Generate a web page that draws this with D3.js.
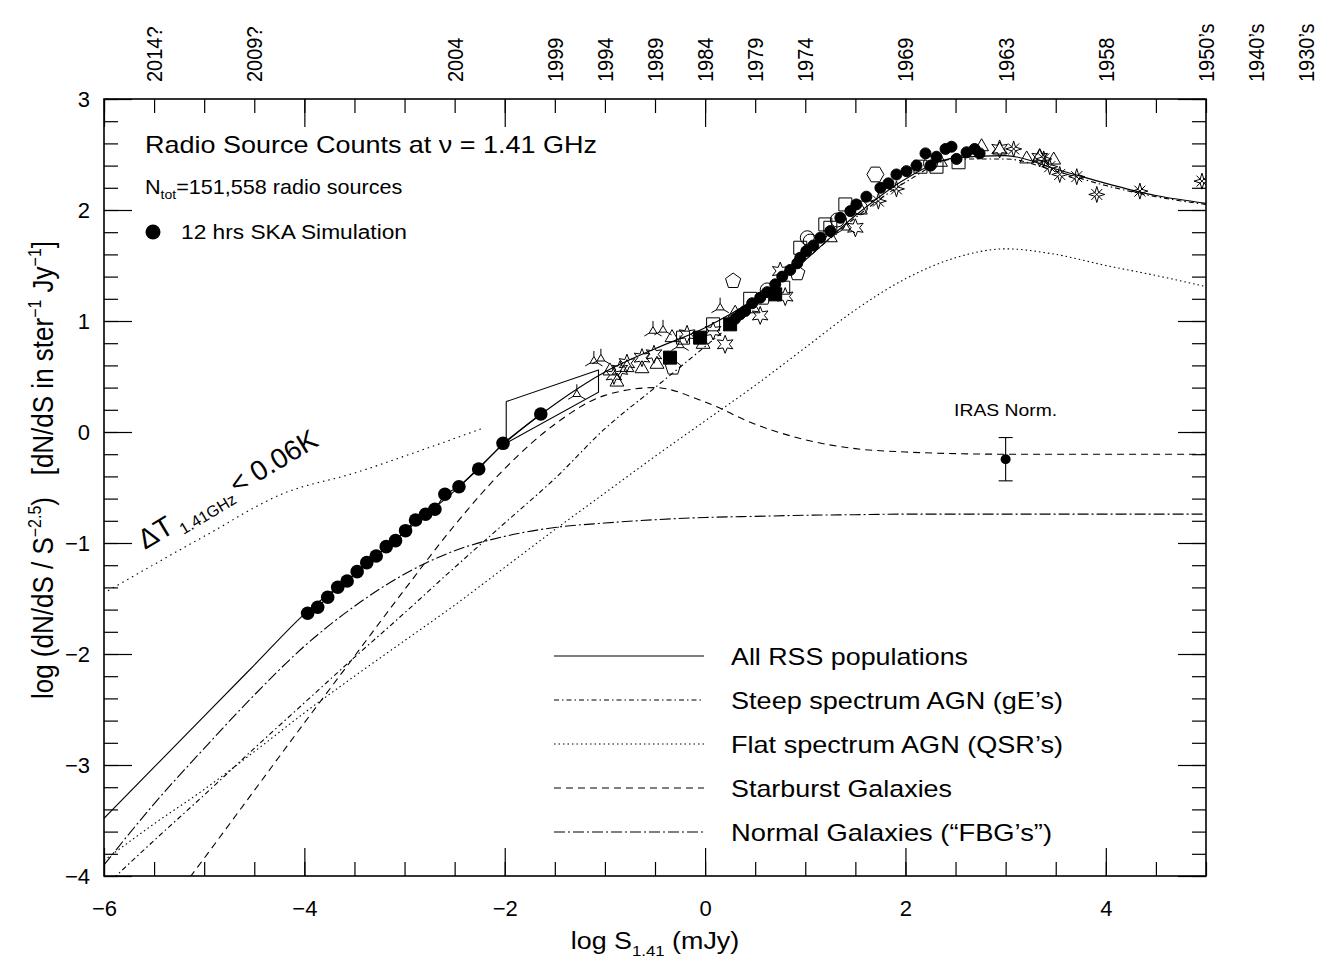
<!DOCTYPE html>
<html>
<head>
<meta charset="UTF-8">
<title>Radio Source Counts at 1.41 GHz</title>
<script src="https://d3js.org/d3.v7.min.js"></script>
<style>
  body { margin: 0; background: #fff; }
  text { font-family: "Liberation Sans", Arial, Helvetica, sans-serif; fill: #000; }
</style>
</head>
<body>
<script>
// ---- data (log S in mJy, log normalised counts) ----
var modelX    = [-6, -5.5, -5, -4.5, -4, -3.5, -3, -2.5, -2, -1.5, -1, -0.5, 0, 0.5, 1, 1.5, 2, 2.5, 3, 3.5, 4, 4.5, 5];
var allRSS    = [-3.48, -3.02, -2.56, -2.1, -1.64, -1.28, -0.9, -0.53, -0.1, 0.25, 0.54, 0.75, 0.94, 1.2, 1.55, 1.95, 2.28, 2.47, 2.49, 2.37, 2.24, 2.13, 2.06];
var steepAGN  = [-4.1, -3.68, -3.27, -2.85, -2.44, -2.03, -1.63, -1.22, -0.82, -0.42, 0.03, 0.4, 0.77, 1.15, 1.55, 1.93, 2.25, 2.46, 2.46, 2.35, 2.22, 2.12, 2.05];
var flatAGN   = [-3.86, -3.53, -3.22, -2.88, -2.53, -2.2, -1.88, -1.56, -1.22, -0.88, -0.55, -0.22, 0.1, 0.42, 0.76, 1.1, 1.38, 1.57, 1.65, 1.6, 1.5, 1.41, 1.31];
var starburst = [null, -4.44, -3.84, -3.23, -2.62, -2.02, -1.42, -0.84, -0.33, 0.07, 0.33, 0.4, 0.27, 0.07, -0.07, -0.15, -0.18, -0.195, -0.2, -0.2, -0.2, -0.2, -0.2];
var normalGal = [-3.9, -3.35, -2.85, -2.37, -1.93, -1.57, -1.28, -1.07, -0.94, -0.86, -0.82, -0.79, -0.77, -0.76, -0.75, -0.745, -0.74, -0.74, -0.74, -0.74, -0.74, -0.74, -0.74];

var skaX = [-3.967, -3.867, -3.767, -3.667, -3.573, -3.473, -3.377, -3.283, -3.183, -3.09, -2.99, -2.89, -2.79, -2.697, -2.597, -2.457, -2.26, -2.017, -1.64];
var skaY = [-1.633, -1.579, -1.489, -1.399, -1.342, -1.258, -1.177, -1.117, -1.033, -0.979, -0.889, -0.793, -0.741, -0.696, -0.561, -0.493, -0.333, -0.102, 0.162];

var tempLimitX = [-5.96, -5.0, -4.2, -3.5, -2.85, -2.2];
var tempLimitY = [-1.43, -0.94, -0.55, -0.37, -0.17, 0.04];

var pdBoxX = [-1.985, -1.064, -1.064, -1.985, -1.985];
var pdBoxY = [0.274, 0.558, 0.358, -0.10, 0.274];

var iras = { x: 3.0, y: -0.245, lo: -0.44, hi: -0.05 };

var filledCircles = [[0.30,1.02],[0.35,1.06],[0.40,1.09],[0.47,1.16],[0.55,1.21],[0.62,1.26],[0.70,1.33],[0.77,1.40],[0.85,1.46],[0.92,1.52],[0.95,1.57],[1.01,1.63],[1.08,1.68],[1.15,1.75],[1.25,1.81],[1.35,1.93],[1.45,1.99],[1.51,2.05],[1.61,2.12],[1.75,2.20],[1.83,2.24],[1.91,2.32],[2.01,2.35],[2.11,2.40],[2.20,2.51],[2.25,2.40],[2.31,2.48],[2.40,2.55],[2.46,2.57],[2.51,2.46],[2.61,2.52],[2.69,2.55],[2.74,2.51]];
var filledSquares = [[-0.35,0.67],[-0.05,0.85],[0.25,0.97],[0.70,1.24]];
var openTriangles = [[-0.95,0.55],[-0.88,0.45],[-0.78,0.58],[-0.63,0.57],[-0.48,0.61],[-0.33,0.85],[-0.02,0.79],[0.30,1.07],[0.48,1.11],[1.25,1.75],[1.55,2.0],[2.35,2.43],[2.76,2.57],[2.94,2.54],[3.21,2.46],[3.34,2.48],[3.48,2.45]];
var tripods = [[-1.28,0.34],[-1.11,0.64],[-1.04,0.66],[-0.52,0.91],[-0.42,0.92],[-0.25,0.78],[0.15,1.12],[1.41,1.84]];
var stars = [[-0.91,0.51],[-0.85,0.56],[-0.78,0.62],[-0.63,0.67],[-0.51,0.70],[-0.18,0.88],[0.08,0.91],[0.20,0.79],[0.55,1.05],[0.75,1.45],[0.80,1.22],[1.50,1.84],[2.94,2.55],[3.34,2.47]];
var openSquares = [[-0.22,0.85],[0.08,0.97],[0.45,1.20],[0.78,1.30],[0.95,1.66],[1.20,1.87],[1.25,1.84],[1.40,2.05],[2.15,2.39],[2.31,2.39],[2.53,2.43]];
var pentagons = [[-0.32,0.58],[0.28,1.36],[0.58,1.21],[0.92,1.43]];
var hexagons = [[1.70,2.32]];
var openCircles = [[1.02,1.75],[1.32,1.91],[1.05,1.72],[2.25,2.42],[0.62,1.28],[1.55,2.02]];
var crossStars = [[1.73,2.08],[1.91,2.19],[3.08,2.55],[3.38,2.46],[3.44,2.39],[3.54,2.32],[3.71,2.30],[3.91,2.14],[4.34,2.17],[4.96,2.26]];

var yearLabels = ["2014?", "2009?", "2004", "1999", "1994", "1989", "1984", "1979", "1974", "1969", "1963", "1958", "1950\u2019s", "1940\u2019s", "1930\u2019s"];
var yearX      = [-5.5, -4.5, -2.5, -1.5, -1, -0.5, 0, 0.5, 1, 2, 3, 4, 5, 5.5, 6];

var legendLabels = ["All RSS populations", "Steep spectrum AGN (gE\u2019s)", "Flat spectrum AGN (QSR\u2019s)", "Starburst Galaxies", "Normal Galaxies (\u201cFBG\u2019s\u201d)"];
var legendWidths = [237, 332, 332, 221, 321];

var xMinor = d3.range(-12, 11).map(function (i) { return i / 2; });
var xMajor = [-6, -4, -2, 0, 2, 4];
var yMinor = d3.range(-20, 16).map(function (i) { return i / 5; });
var yMajor = [-4, -3, -2, -1, 0, 1, 2, 3];

// ---- layout ----
var W = 1321, H = 960;
var plotL = 104, plotR = 1206, plotT = 99, plotB = 876;
var x = d3.scaleLinear().domain([-6, 5]).range([plotL, plotR]);
var y = d3.scaleLinear().domain([-4, 3]).range([plotB, plotT]);

var dashes = ["", "5,3,1.5,3", "1.5,3", "7,5", "11,3,2,3"];
var series = [allRSS, steepAGN, flatAGN, starburst, normalGal];

var svg = d3.select("body").append("svg").attr("width", W).attr("height", H);

svg.append("clipPath").attr("id", "clip")
  .append("rect").attr("x", plotL).attr("y", plotT).attr("width", plotR - plotL).attr("height", plotB - plotT);

// axes
function styleAxis(g) {
  g.attr("font-family", null).attr("font-size", null);
  g.select(".domain").remove();
  g.selectAll("line").attr("stroke", "#000").attr("stroke-width", 1.2);
  g.selectAll("text").attr("font-size", 22);
}
svg.append("g").attr("transform", "translate(0," + plotB + ")")
  .call(d3.axisBottom(x).tickValues(xMinor).tickSize(-14).tickFormat("")).call(styleAxis);
svg.append("g").attr("transform", "translate(0," + plotB + ")")
  .call(d3.axisBottom(x).tickValues(xMajor).tickSize(-28).tickPadding(24).tickFormat(d3.format("d"))).call(styleAxis);
svg.append("g").attr("transform", "translate(0," + plotT + ")")
  .call(d3.axisTop(x).tickValues(xMinor).tickSize(-14).tickFormat("")).call(styleAxis);
svg.append("g").attr("transform", "translate(0," + plotT + ")")
  .call(d3.axisTop(x).tickValues(xMajor).tickSize(-28).tickFormat("")).call(styleAxis);
svg.append("g").attr("transform", "translate(" + plotL + ",0)")
  .call(d3.axisLeft(y).tickValues(yMinor).tickSize(-14).tickFormat("")).call(styleAxis);
svg.append("g").attr("transform", "translate(" + plotL + ",0)")
  .call(d3.axisLeft(y).tickValues(yMajor).tickSize(-28).tickPadding(14).tickFormat(d3.format("d"))).call(styleAxis);
svg.append("g").attr("transform", "translate(" + plotR + ",0)")
  .call(d3.axisRight(y).tickValues(yMinor).tickSize(-14).tickFormat("")).call(styleAxis);
svg.append("g").attr("transform", "translate(" + plotR + ",0)")
  .call(d3.axisRight(y).tickValues(yMajor).tickSize(-28).tickFormat("")).call(styleAxis);

svg.append("rect").attr("x", plotL).attr("y", plotT).attr("width", plotR - plotL).attr("height", plotB - plotT)
  .attr("fill", "none").attr("stroke", "#000").attr("stroke-width", 1.6);

// top year labels
svg.selectAll(".year").data(yearLabels).enter().append("text")
  .attr("class", "year")
  .attr("transform", function (d, i) { return "translate(" + (x(yearX[i]) + 8) + ",82) rotate(-90) scale(1,1.12)"; })
  .attr("font-size", 20)
  .text(function (d) { return d; });

// axis titles
var xt = svg.append("text").attr("transform", "translate(655,949) scale(1.12,1)")
  .attr("text-anchor", "middle").attr("font-size", 24);
xt.append("tspan").text("log S");
xt.append("tspan").attr("font-size", 15).attr("dy", 7).text("1.41");
xt.append("tspan").attr("dy", -7).text(" (mJy)");

var yt = svg.append("text").attr("transform", "translate(53,470) rotate(-90) scale(1,1.1)")
  .attr("text-anchor", "middle").attr("font-size", 26);
yt.append("tspan").text("log (dN/dS / S");
yt.append("tspan").attr("font-size", 16).attr("dy", -11).text("\u22122.5");
yt.append("tspan").attr("dy", 11).text(")\u00a0\u00a0\u00a0[dN/dS in ster");
yt.append("tspan").attr("font-size", 16).attr("dy", -11).text("\u22121");
yt.append("tspan").attr("dy", 11).text(" Jy");
yt.append("tspan").attr("font-size", 16).attr("dy", -11).text("\u22121");
yt.append("tspan").attr("dy", 11).text("]");

// plot content
var plot = svg.append("g").attr("clip-path", "url(#clip)");

var line = d3.line()
  .defined(function (d) { return d[1] !== null; })
  .x(function (d) { return x(d[0]); })
  .y(function (d) { return y(d[1]); })
  .curve(d3.curveMonotoneX);

series.forEach(function (s, i) {
  plot.append("path")
    .datum(modelX.map(function (v, j) { return [v, s[j]]; }))
    .attr("d", line)
    .attr("fill", "none")
    .attr("stroke", "#000")
    .attr("stroke-width", 1.1)
    .attr("stroke-dasharray", dashes[i] || null);
});

// SKA simulated counts joined by the solid line
plot.append("path")
  .datum(skaX.map(function (v, j) { return [v, skaY[j]]; }))
  .attr("d", d3.line().x(function (d) { return x(d[0]); }).y(function (d) { return y(d[1]); }))
  .attr("fill", "none").attr("stroke", "#000").attr("stroke-width", 1.1);

// temperature limit line
plot.append("path")
  .datum(tempLimitX.map(function (v, j) { return [v, tempLimitY[j]]; }))
  .attr("d", d3.line().x(function (d) { return x(d[0]); }).y(function (d) { return y(d[1]); }).curve(d3.curveMonotoneX))
  .attr("fill", "none").attr("stroke", "#000").attr("stroke-width", 1.1).attr("stroke-dasharray", "1.5,4");

// P(D) box
plot.append("path")
  .datum(pdBoxX.map(function (v, j) { return [v, pdBoxY[j]]; }))
  .attr("d", d3.line().x(function (d) { return x(d[0]); }).y(function (d) { return y(d[1]); }))
  .attr("fill", "none").attr("stroke", "#000").attr("stroke-width", 1.1);

// marker shapes
function poly(n, r, rot) {
  var p = [];
  for (var k = 0; k < n; k++) {
    var a = rot + k * 2 * Math.PI / n;
    p.push([r * Math.cos(a), r * Math.sin(a)]);
  }
  return "M" + p.map(function (q) { return q[0].toFixed(2) + "," + q[1].toFixed(2); }).join("L") + "Z";
}
function star(n, ro, ri, rot) {
  var p = [];
  for (var k = 0; k < 2 * n; k++) {
    var a = rot + k * Math.PI / n, r = k % 2 ? ri : ro;
    p.push([r * Math.cos(a), r * Math.sin(a)]);
  }
  return "M" + p.map(function (q) { return q[0].toFixed(2) + "," + q[1].toFixed(2); }).join("L") + "Z";
}
var up = -Math.PI / 2;
var triPath = poly(3, 8, up);
var pentPath = poly(5, 8, up);
var hexPath = poly(6, 8.5, 0);
var sqPath = "M-6.5,-6.5h13v13h-13Z";
var starPath = star(6, 9, 4.2, up);
var crossPath = star(4, 8, 2.6, up) + "M-5.5,-5.5L5.5,5.5M5.5,-5.5L-5.5,5.5";
var tripodPath = (function () {
  var s = poly(3, 4.5, up);
  for (var k = 0; k < 3; k++) {
    var a = up + k * 2 * Math.PI / 3;
    s += "M" + (4.5 * Math.cos(a)).toFixed(2) + "," + (4.5 * Math.sin(a)).toFixed(2) +
         "L" + (10 * Math.cos(a)).toFixed(2) + "," + (10 * Math.sin(a)).toFixed(2);
  }
  return s;
})();
var circPath = "M7,0A7,7 0 1,1 -7,0A7,7 0 1,1 7,0Z";
var dotPath = "M5.5,0A5.5,5.5 0 1,1 -5.5,0A5.5,5.5 0 1,1 5.5,0Z";

var markerSets = [
  { pts: openSquares, d: sqPath, fill: "none" },
  { pts: pentagons, d: pentPath, fill: "none" },
  { pts: hexagons, d: hexPath, fill: "none" },
  { pts: openCircles, d: circPath, fill: "none" },
  { pts: openTriangles, d: triPath, fill: "none" },
  { pts: tripods, d: tripodPath, fill: "none" },
  { pts: stars, d: starPath, fill: "none" },
  { pts: crossStars, d: crossPath, fill: "none" },
  { pts: filledSquares, d: sqPath, fill: "#000" },
  { pts: filledCircles, d: dotPath, fill: "#000" }
];
markerSets.forEach(function (s) {
  plot.selectAll(null).data(s.pts).enter().append("path")
    .attr("d", s.d)
    .attr("transform", function (p) { return "translate(" + x(p[0]) + "," + y(p[1]) + ")"; })
    .attr("fill", s.fill)
    .attr("stroke", "#000")
    .attr("stroke-width", 1);
});

plot.selectAll(".ska").data(skaX).enter().append("circle")
  .attr("class", "ska")
  .attr("cx", function (d) { return x(d); })
  .attr("cy", function (d, i) { return y(skaY[i]); })
  .attr("r", 6.8)
  .attr("fill", "#000");

// IRAS normalisation point
svg.append("line").attr("x1", x(iras.x)).attr("x2", x(iras.x)).attr("y1", y(iras.lo)).attr("y2", y(iras.hi))
  .attr("stroke", "#000").attr("stroke-width", 1.1);
[iras.lo, iras.hi].forEach(function (v) {
  svg.append("line").attr("x1", x(iras.x) - 7).attr("x2", x(iras.x) + 7).attr("y1", y(v)).attr("y2", y(v))
    .attr("stroke", "#000").attr("stroke-width", 1.1);
});
svg.append("circle").attr("cx", x(iras.x)).attr("cy", y(iras.y)).attr("r", 5).attr("fill", "#000");
svg.append("text").attr("x", x(iras.x)).attr("y", 416).attr("text-anchor", "middle")
  .attr("font-size", 17).attr("textLength", 103).attr("lengthAdjust", "spacingAndGlyphs").text("IRAS Norm.");

// annotations
svg.append("text").attr("x", 145).attr("y", 153).attr("font-size", 24)
  .attr("textLength", 452).attr("lengthAdjust", "spacingAndGlyphs")
  .text("Radio Source Counts at \u03bd = 1.41 GHz");

var nt = svg.append("text").attr("transform", "translate(145,194) scale(1.08,1)").attr("font-size", 20);
nt.append("tspan").text("N");
nt.append("tspan").attr("font-size", 13).attr("dy", 5).text("tot");
nt.append("tspan").attr("dy", -5).text("=151,558 radio sources");

svg.append("circle").attr("cx", 153).attr("cy", 232).attr("r", 7.5).attr("fill", "#000");
svg.append("text").attr("x", 181).attr("y", 239).attr("font-size", 20)
  .attr("textLength", 226).attr("lengthAdjust", "spacingAndGlyphs").text("12 hrs SKA Simulation");

var dt = svg.append("text").attr("transform", "translate(145,550) rotate(-31)").attr("font-size", 28);
dt.append("tspan").text("\u0394T");
dt.append("tspan").attr("font-size", 16).attr("dx", 5).attr("dy", 7).text("1.41GHz");
dt.append("tspan").attr("dx", 3).attr("dy", -7).text("< 0.06K");

// legend
var legY = [656, 700, 744, 788, 832];
legendLabels.forEach(function (lab, i) {
  svg.append("line").attr("x1", 554).attr("x2", 704).attr("y1", legY[i]).attr("y2", legY[i])
    .attr("stroke", "#000").attr("stroke-width", 1.1)
    .attr("stroke-dasharray", dashes[i] || null);
  svg.append("text").attr("x", 731).attr("y", legY[i] + 8.5).attr("font-size", 24)
    .attr("textLength", legendWidths[i]).attr("lengthAdjust", "spacingAndGlyphs").text(lab);
});
</script>
</body>
</html>
